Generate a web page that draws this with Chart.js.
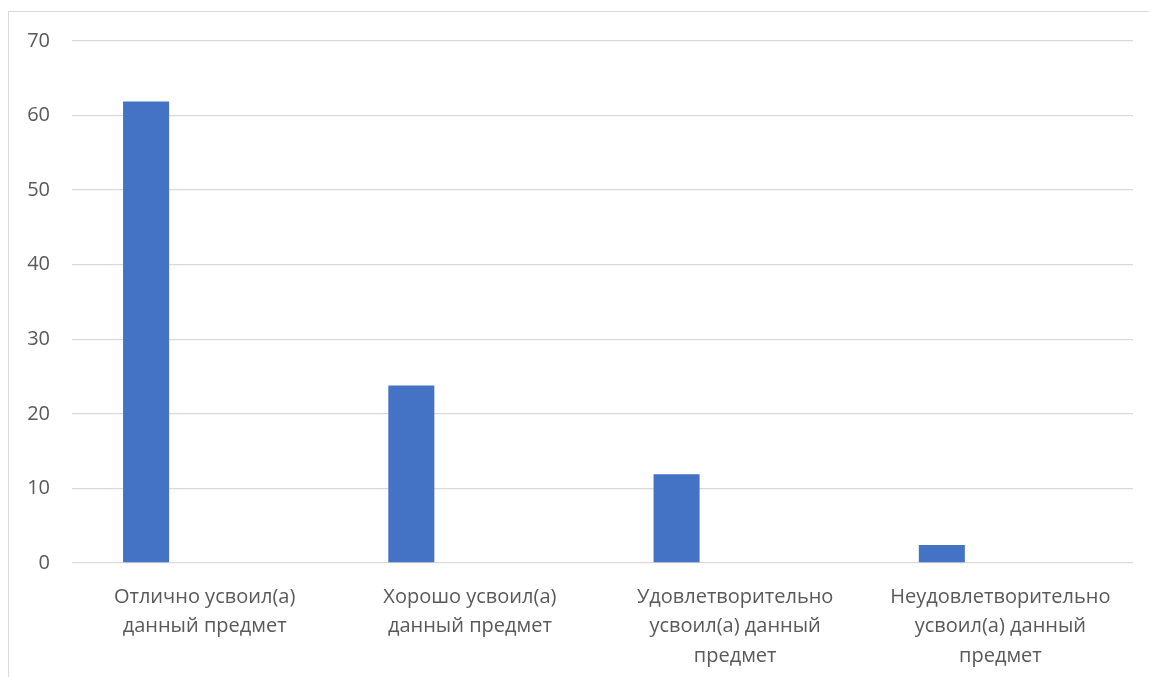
<!DOCTYPE html>
<html>
<head>
<meta charset="utf-8">
<script src="https://cdn.jsdelivr.net/npm/chart.js@4/dist/chart.umd.min.js"></script>
<style>
  html, body { margin: 0; padding: 0; background: #fff; overflow: hidden; }
  #wrap { position: relative; width: 1149px; height: 677px; overflow: hidden; }
  #frame { position: absolute; left: 8px; top: 11px; width: 1200px; height: 700px; border: 1px solid #d9d9d9; box-sizing: border-box; }
  canvas { position: absolute; left: 0; top: 0; }
</style>
</head>
<body>
<div id="wrap">
  <div id="frame"></div>
  <canvas id="myChart" width="1149" height="677"></canvas>
</div>
<script>
const categories = [
  ['Отлично усвоил(а)', 'данный предмет'],
  ['Хорошо усвоил(а)', 'данный предмет'],
  ['Удовлетворительно', 'усвоил(а) данный', 'предмет'],
  ['Неудовлетворительно', 'усвоил(а) данный', 'предмет']
];
const values = [61.9, 23.8, 11.9, 2.4];
const emptySeries = [null, null, null, null];
const yTicks = [0, 10, 20, 30, 40, 50, 60, 70];

window.onload = _ => {
  const ctx = document.getElementById('myChart').getContext('2d');

  new Chart(ctx, {
    type: 'bar',
    data: {
      labels: categories,
      datasets: [{
        label: 'Ряд 1',
        backgroundColor: '#4472c4',
        data: values,
        categoryPercentage: 0.883,
        barPercentage: 0.393
      }, {
        label: 'Ряд 2',
        backgroundColor: '#ed7d31',
        data: emptySeries,
        categoryPercentage: 0.883,
        barPercentage: 0.393
      }]
    },
    options: {
      responsive: false,
      animation: false,
      layout: { padding: { left: 0, right: 16, top: 41, bottom: 0 } },
      plugins: { legend: { display: false }, tooltip: { enabled: false } },
      scales: {
        x: {
          grid: { display: false },
          border: { display: false },
          ticks: {
            color: '#595959',
            font: { family: 'Open Sans', size: 20, lineHeight: 1.48 },
            maxRotation: 0,
            autoSkip: false,
            padding: 11
          },
          afterFit: s => { s.height = 114; }
        },
        y: {
          min: 0,
          max: 70,
          afterBuildTicks: s => { s.ticks = yTicks.map(v => ({ value: v })); },
          grid: { color: '#d9d9d9', lineWidth: 1.3, drawTicks: false },
          border: { display: false },
          ticks: {
            color: '#595959',
            font: { family: 'Open Sans', size: 20 },
            padding: 22
          },
          afterFit: s => { s.width = 72; }
        }
      }
    }
  });
};
</script>
</body>
</html>
